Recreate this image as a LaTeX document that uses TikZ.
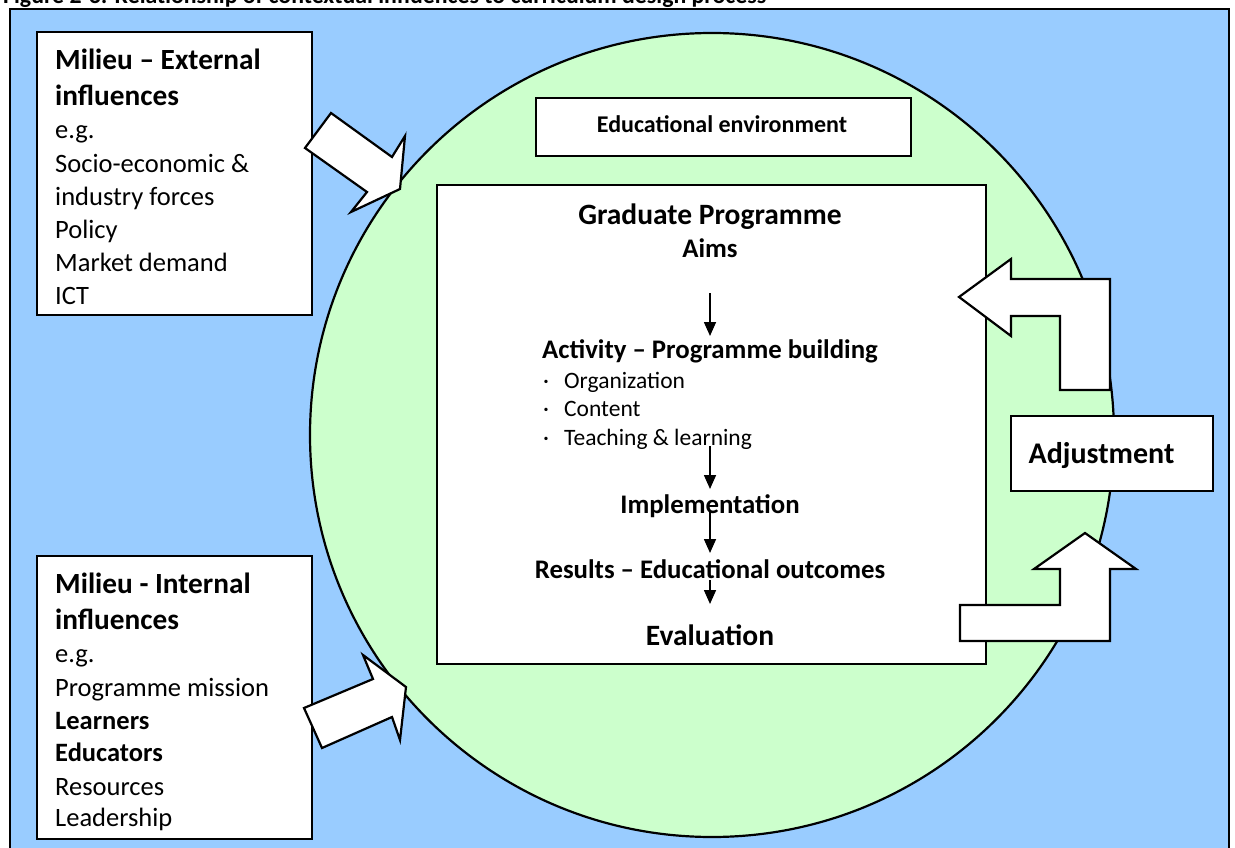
\documentclass[tikz,border=0pt]{standalone}
\usepackage{fontspec}
\setmainfont{Carlito}
\usetikzlibrary{arrows.meta}
\definecolor{bgblue}{HTML}{99CCFF}
\definecolor{circgreen}{HTML}{CCFFCC}
\tikzset{
  boxshape/.style={draw=black, fill=white, line width=2pt, inner sep=0pt, anchor=north west},
  blockarrow/.style={draw=black, fill=white, line width=2.2pt, line join=miter},
  regl/.style={anchor=base west, inner sep=0pt, font=\fontsize{26.5}{32}\selectfont},
  boldl/.style={anchor=base west, inner sep=0pt, font=\bfseries\fontsize{26.5}{32}\selectfont},
  headl/.style={anchor=base west, inner sep=0pt, font=\bfseries\fontsize{29.3}{35}\selectfont},
  ctext/.style={anchor=base, inner sep=0pt, font=\bfseries\fontsize{26.8}{32}\selectfont},
  bigc/.style={anchor=base, inner sep=0pt, font=\bfseries\fontsize{29.5}{35}\selectfont},
  bullet/.style={anchor=base west, inner sep=0pt, font=\fontsize{23.5}{28}\selectfont},
  flow/.style={line width=1.6pt, -{Triangle[length=14pt,width=12pt]}}
}
\begin{document}
\begin{tikzpicture}[x=1pt,y=-1pt]
\useasboundingbox (0,0) rectangle (1235,848);
\clip (0,0) rectangle (1235,848);

% caption (cut off at the top, as in the reference)
\node[anchor=base west, inner sep=0pt, font=\bfseries\fontsize{23.8}{28}\selectfont] (cap) at (3,4)
  {Figure 2-3: Relationship of contextual influences to curriculum design process};

% background
\draw[fill=bgblue, line width=2.5pt] (10,9) rectangle (1229,870);
\draw[fill=circgreen, line width=2.2pt] (712,435) circle[radius=402pt];

% boxes
\node[boxshape, minimum width=275pt, minimum height=283pt] (ext) at (36,31) {};
\node[boxshape, minimum width=275pt, minimum height=283pt] (int) at (36,555) {};
\node[boxshape, minimum width=375pt, minimum height=58pt] (env) at (535,97) {};
\node[boxshape, minimum width=549pt, minimum height=479pt] (main) at (436,184) {};

% external influences text
\node[headl] (e1) at (55,70) {Milieu – External};
\node[headl] (e2) at (55,106) {influences};
\node[regl] (e3) at (55,139) {e.g.};
\node[regl] (e4) at (55,172) {Socio-economic \&};
\node[regl] (e5) at (55,205) {industry forces};
\node[regl] (e6) at (55,238) {Policy};
\node[regl] (e7) at (55,271) {Market demand};
\node[regl] (e8) at (55,304) {ICT};

% internal influences text
\node[headl] (i1) at (55,593) {Milieu - Internal};
\node[headl] (i2) at (55,629) {influences};
\node[regl] (i3) at (55,662) {e.g.};
\node[regl] (i4) at (55,696) {Programme mission};
\node[boldl] (i5) at (55,729) {Learners};
\node[boldl] (i6) at (55,761) {Educators};
\node[regl] (i7) at (55,795) {Resources};
\node[regl] (i8) at (55,826) {Leadership};

% educational environment
\node[anchor=base, inner sep=0pt, font=\bfseries\fontsize{24}{29}\selectfont] (envt) at (722,133) {Educational environment};

% main programme text
\node[bigc] (grad) at (710,225) {Graduate Programme};
\node[ctext] (aims) at (710,257) {Aims};
\node[ctext] (act) at (710,358) {Activity – Programme building};
\node[bullet] (b1) at (543,388) {\makebox[21pt][l]{·}Organization};
\node[bullet] (b2) at (543,416) {\makebox[21pt][l]{·}Content};
\node[bullet] (b3) at (543,445) {\makebox[21pt][l]{·}Teaching \& learning};
\node[ctext] (impl) at (710,513) {Implementation};
\node[ctext] (res) at (710,578) {Results – Educational outcomes};
\node[bigc] (eval) at (710,645) {Evaluation};

\coordinate (a1s) at (710,293); \coordinate (a1e) at (710,336);
\coordinate (a2s) at (710,446); \coordinate (a2e) at (710,489);
\coordinate (a3s) at (710,510); \coordinate (a3e) at (710,553);
\coordinate (a4s) at (710,580); \coordinate (a4e) at (710,604);
\draw[flow] (a1s) -- (a1e);
\draw[flow] (a2s) -- (a2e);
\draw[flow] (a3s) -- (a3e);
\draw[flow] (a4s) -- (a4e);

% block arrows
\draw[blockarrow] (305,148) -- (331,113) -- (392,157) -- (405,136) -- (400,189) -- (351,212) -- (367,192) -- cycle;
\draw[blockarrow] (304,708) -- (373,679) -- (363,655) -- (406,687) -- (400,740) -- (392,717) -- (322,748) -- cycle;
\draw[blockarrow] (959,297) -- (1011,259) -- (1011,279) -- (1110,279) -- (1110,390) -- (1060,390) -- (1060,316) -- (1011,316) -- (1011,336) -- cycle;
\draw[blockarrow] (1085,533) -- (1136,569) -- (1110,569) -- (1110,641) -- (960,641) -- (960,605) -- (1060,605) -- (1060,569) -- (1034,569) -- cycle;

% adjustment
\node[boxshape, minimum width=202pt, minimum height=75pt] (adj) at (1010,415) {};
\node[anchor=base, inner sep=0pt, font=\bfseries\fontsize{30}{36}\selectfont] (adjt) at (1101.5,463) {Adjustment};
\end{tikzpicture}
\end{document}
